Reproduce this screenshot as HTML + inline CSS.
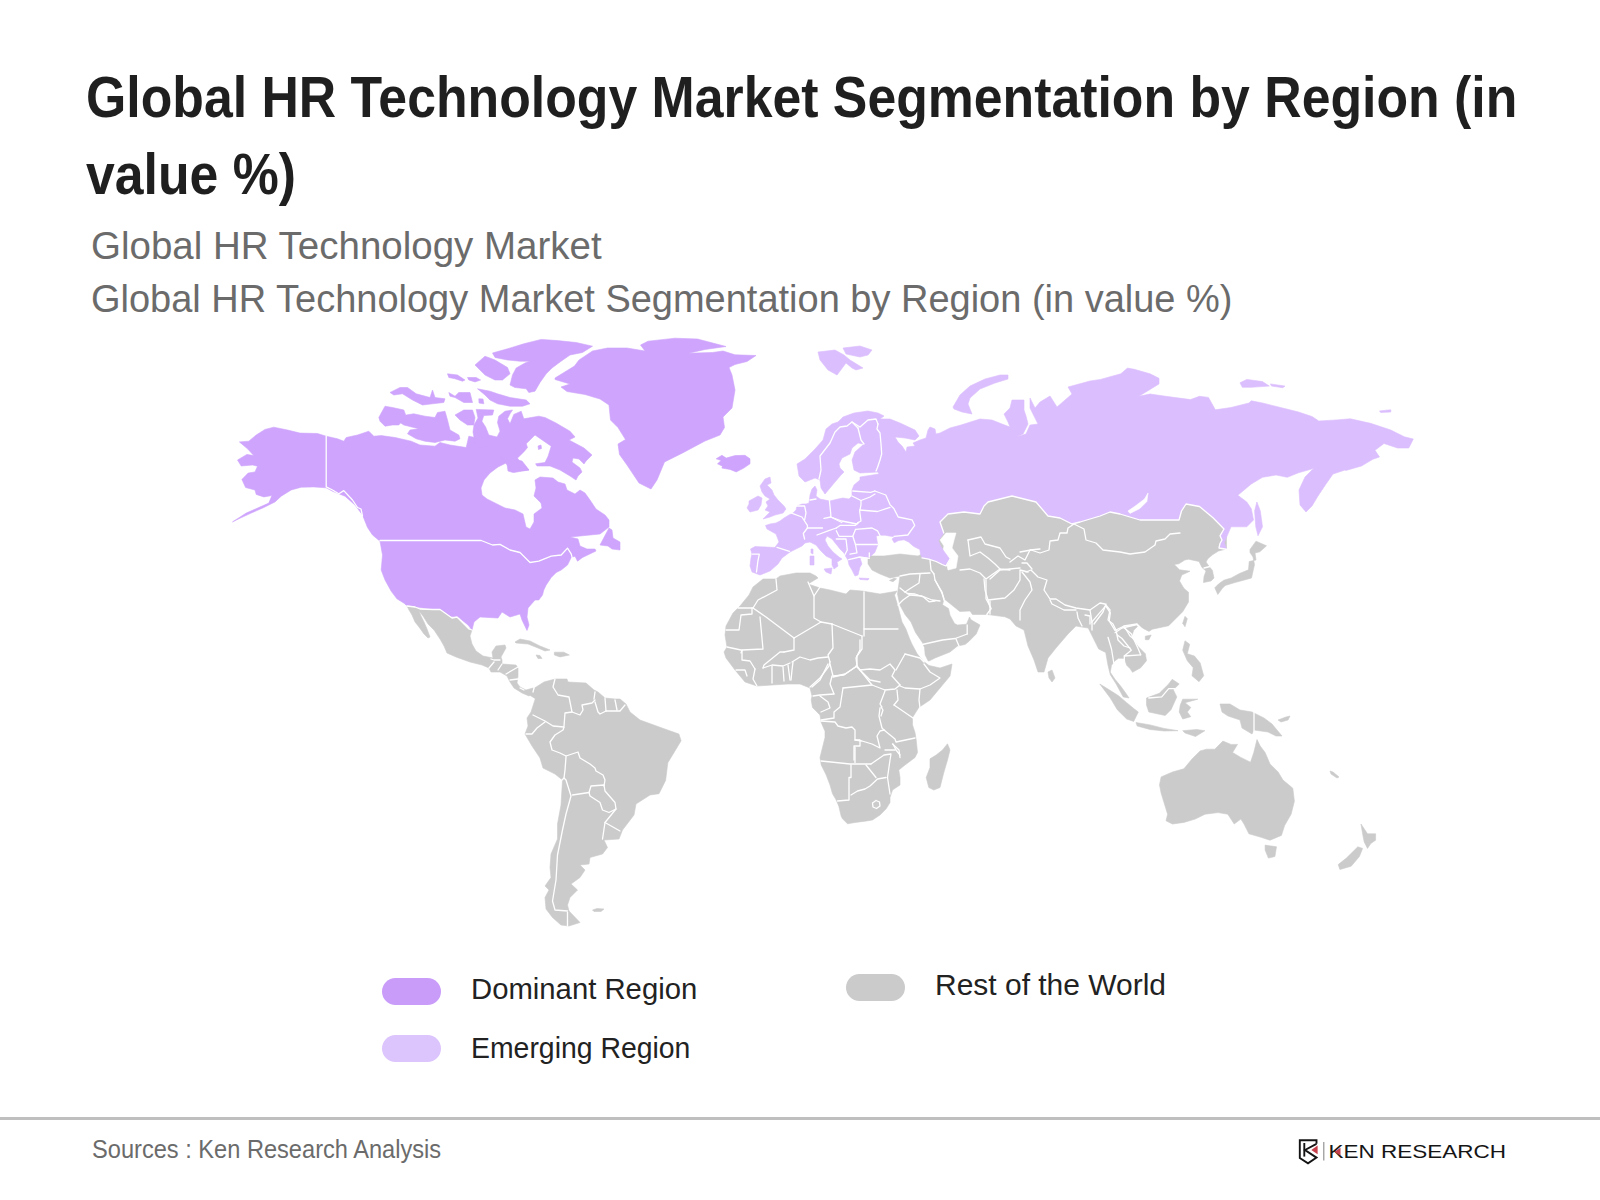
<!DOCTYPE html>
<html><head><meta charset="utf-8">
<style>
html,body{margin:0;padding:0;background:#fff;width:1600px;height:1200px;overflow:hidden;position:relative}
.t{position:absolute;white-space:nowrap;line-height:1;font-family:"Liberation Sans",sans-serif;transform-origin:0 0}
#t1,#t2{font-weight:bold;font-size:58px;color:#1f1f1f}
#s1,#s2{font-size:39.7px;color:#6b6b6b}
.lg{font-size:30.1px;color:#222}
.pill{position:absolute;width:59px;height:27px;border-radius:14px}
#src{font-size:25.4px;color:#6b6b6b}
#rule{position:absolute;left:0;top:1117px;width:1600px;height:3px;background:#bfbfbf}
#map{position:absolute;left:0;top:0}
</style></head><body>
<div class="t" id="t1" style="left:86px;top:67.7px;transform:scaleX(0.8925)">Global HR Technology Market Segmentation by Region (in</div>
<div class="t" id="t2" style="left:86px;top:144.7px;transform:scaleX(0.8925)">value %)</div>
<div class="t" id="s1" style="left:91px;top:226.4px;transform:scaleX(0.97)">Global HR Technology Market</div>
<div class="t" id="s2" style="left:91px;top:279.4px;transform:scaleX(0.957)">Global HR Technology Market Segmentation by Region (in value %)</div>
<svg id="map" width="1600" height="1200" viewBox="0 0 1600 1200"><path d="M239.4,441.9 L248.8,441.2 L256.2,435.0 L265.0,429.4 L273.8,427.2 L287.5,430.0 L300.0,433.1 L317.5,433.5 L326.2,436.2 L337.5,438.8 L343.8,441.2 L346.2,437.5 L357.5,435.0 L368.8,431.2 L373.8,436.2 L381.2,435.6 L395.0,437.5 L411.2,441.2 L420.0,445.0 L435.0,446.2 L440.0,442.5 L450.0,445.0 L466.2,447.5 L468.8,436.2 L475.0,437.5 L477.5,447.5 L480.0,440.0 L490.0,440.0 L500.0,445.0 L503.0,455.0 L506.0,463.0 L498.0,467.0 L490.0,473.0 L484.0,480.0 L481.0,488.0 L482.0,495.0 L487.0,499.0 L495.0,503.0 L505.0,508.0 L515.0,510.0 L523.0,514.0 L526.0,527.0 L530.0,529.0 L534.0,522.0 L534.0,514.0 L542.0,508.0 L541.0,503.0 L534.0,496.0 L536.0,488.0 L535.0,480.0 L540.0,477.0 L553.0,478.0 L558.0,482.0 L565.0,484.0 L567.0,490.0 L575.0,494.0 L580.0,490.0 L585.0,493.0 L590.0,500.0 L596.0,509.0 L605.0,515.0 L609.0,520.0 L609.0,527.0 L600.0,534.0 L590.0,535.0 L570.0,537.0 L578.0,539.0 L580.0,546.0 L587.0,549.0 L595.0,549.0 L596.0,551.0 L582.5,557.5 L577.5,561.2 L575.0,556.2 L571.2,557.5 L567.5,565.0 L561.2,570.0 L556.2,572.5 L551.2,577.5 L546.2,585.0 L543.8,590.0 L542.5,595.0 L538.8,600.0 L535.0,600.0 L528.0,608.0 L527.0,617.0 L529.0,625.0 L527.0,630.5 L522.0,620.0 L520.0,614.0 L510.0,617.0 L502.0,612.0 L498.0,618.0 L480.0,617.0 L474.0,622.0 L472.0,630.0 L468.0,625.0 L458.8,617.5 L451.2,616.6 L436.2,610.0 L423.0,608.0 L406.2,605.3 L404.4,603.4 L396.9,598.8 L391.2,591.2 L385.0,580.0 L381.2,570.0 L382.5,555.0 L380.0,541.2 L372.5,535.0 L367.5,527.5 L362.5,515.0 L355.0,505.0 L345.0,496.2 L332.5,491.2 L326.2,487.8 L313.8,486.9 L301.2,487.2 L291.2,490.0 L281.2,496.2 L275.0,501.9 L263.8,507.5 L251.2,513.1 L238.8,518.8 L232.5,521.9 L246.2,513.1 L258.8,507.5 L268.8,503.1 L271.9,495.6 L263.8,496.9 L256.2,494.4 L255.0,490.0 L245.6,487.5 L241.9,479.4 L248.1,473.1 L255.0,471.9 L257.5,466.2 L252.5,465.0 L241.2,466.0 L237.5,460.0 L246.9,454.4 L253.8,455.6 L247.5,448.8Z" fill="#cea4fc" stroke="#cea4fc" stroke-width="0.6"/><path d="M0.0,0.0 L0.0,0.0 L0.0,0.0Z" fill="#fff" stroke="#fff" stroke-width="0.6"/><path d="M600.0,545.0 L609.0,528.0 L612.0,530.0 L613.0,538.0 L620.0,542.0 L620.0,550.0 L612.0,549.0 L608.0,546.0Z" fill="#cea4fc" stroke="#cea4fc" stroke-width="0.6"/><path d="M507.0,464.0 L513.0,459.0 L522.0,461.0 L526.0,466.0 L529.0,470.0 L524.0,470.5 L517.0,469.5 L513.0,472.5 L508.0,471.0Z" fill="#cea4fc" stroke="#cea4fc" stroke-width="0.6"/><path d="M476.2,409.4 L493.8,410.0 L492.5,415.0 L483.8,415.6 L481.9,421.2 L485.6,426.9 L488.8,435.0 L497.0,437.0 L500.0,431.2 L497.5,422.5 L498.8,416.2 L505.0,411.2 L512.5,410.0 L510.0,413.8 L507.5,418.8 L510.0,423.8 L513.8,414.4 L521.2,411.2 L523.8,418.8 L538.8,416.2 L545.0,417.5 L556.0,423.0 L570.0,431.2 L575.0,437.0 L569.0,440.0 L584.0,448.0 L592.0,455.0 L586.0,461.0 L584.0,464.0 L579.0,459.0 L573.0,458.0 L572.0,462.0 L580.0,468.0 L582.0,472.0 L578.0,476.0 L576.0,480.0 L570.0,476.0 L560.0,470.0 L550.0,466.0 L537.0,466.0 L535.6,463.8 L545.0,462.5 L548.1,456.2 L551.2,446.2 L535.0,435.0 L526.2,443.8 L527.5,447.5 L523.8,451.9 L517.5,458.1 L520.0,462.0 L528.8,470.0 L513.8,472.5 L506.2,463.8 L500.0,456.0 L496.0,448.0 L488.0,446.0 L476.0,448.0 L473.0,432.0 L474.0,425.0 L478.0,418.0Z" fill="#cea4fc" stroke="#cea4fc" stroke-width="0.6"/><path d="M475.0,365.0 L485.0,356.2 L495.0,360.0 L507.5,367.5 L510.0,373.8 L502.5,380.0 L495.0,380.0 L485.0,375.0Z" fill="#cea4fc" stroke="#cea4fc" stroke-width="0.6"/><path d="M478.8,398.8 L483.0,399.0 L483.8,403.8 L479.0,403.0Z" fill="#cea4fc" stroke="#cea4fc" stroke-width="0.6"/><path d="M555.0,378.0 L574.5,366.0 L579.0,360.0 L592.5,351.0 L607.5,348.0 L627.0,348.0 L645.0,351.0 L640.5,345.0 L648.0,341.2 L675.0,338.2 L697.5,339.0 L726.0,346.5 L705.0,349.5 L688.5,353.2 L712.5,352.5 L723.0,351.0 L735.0,354.8 L756.0,355.5 L747.0,361.5 L735.0,364.5 L729.0,367.5 L732.0,375.0 L735.0,390.0 L732.0,408.0 L723.0,417.0 L724.5,427.5 L720.0,435.0 L705.0,441.0 L682.5,453.0 L664.5,462.0 L657.0,480.0 L651.0,489.0 L639.0,483.0 L627.0,465.0 L619.5,454.5 L618.0,444.0 L625.5,439.5 L618.0,427.5 L610.5,420.0 L609.0,405.0 L600.0,399.0 L585.0,394.5 L567.0,391.5 L561.0,387.0 L570.0,384.0 L555.0,379.5Z" fill="#cea4fc" stroke="#cea4fc" stroke-width="0.6"/><path d="M492.5,353.0 L507.5,348.8 L523.8,343.8 L541.2,339.4 L557.5,340.6 L576.2,342.5 L592.5,346.2 L582.5,352.5 L570.0,355.0 L560.0,362.0 L552.0,368.0 L546.2,373.8 L540.0,382.5 L535.0,391.2 L528.8,392.5 L526.2,388.8 L515.0,387.5 L510.0,385.0 L512.5,375.0 L516.2,368.0 L525.0,363.0 L530.0,361.2 L520.0,361.2 L507.5,360.0 L495.0,357.5Z" fill="#cea4fc" stroke="#cea4fc" stroke-width="0.6"/><path d="M477.5,388.8 L490.0,391.2 L497.5,393.8 L510.0,397.5 L526.2,400.0 L530.0,403.8 L522.5,406.2 L510.0,406.2 L497.5,403.8 L490.0,400.0 L485.0,395.0Z" fill="#cea4fc" stroke="#cea4fc" stroke-width="0.6"/><path d="M378.8,417.5 L385.0,406.2 L392.5,407.5 L403.8,410.0 L406.2,416.2 L398.8,425.0 L392.5,425.0 L385.0,426.2 L380.0,421.2Z" fill="#cea4fc" stroke="#cea4fc" stroke-width="0.6"/><path d="M400.0,422.5 L406.2,415.0 L413.8,413.8 L425.0,416.2 L435.0,417.5 L437.5,412.5 L445.0,411.2 L447.5,420.0 L450.0,430.0 L458.8,435.0 L460.0,438.8 L455.0,441.2 L445.0,440.0 L435.0,442.5 L425.0,441.2 L416.2,438.8 L407.5,433.8 L410.0,430.0 L418.8,428.8 L403.8,425.0Z" fill="#cea4fc" stroke="#cea4fc" stroke-width="0.6"/><path d="M390.0,392.5 L400.0,387.5 L407.5,387.5 L416.2,393.8 L430.0,397.5 L432.5,390.0 L435.0,397.5 L445.0,398.8 L443.8,402.5 L432.5,403.8 L422.5,405.0 L412.5,400.0 L402.5,393.8 L393.8,395.0Z" fill="#cea4fc" stroke="#cea4fc" stroke-width="0.6"/><path d="M447.5,373.8 L457.5,375.0 L465.0,380.0 L462.5,381.2 L455.0,378.8 L448.8,377.5Z" fill="#cea4fc" stroke="#cea4fc" stroke-width="0.6"/><path d="M467.5,377.5 L476.2,377.5 L480.6,380.0 L475.0,381.9 L468.8,380.0Z" fill="#cea4fc" stroke="#cea4fc" stroke-width="0.6"/><path d="M448.8,392.5 L455.0,396.2 L458.8,392.5 L470.0,392.5 L472.5,402.5 L463.8,402.5 L455.0,397.5 L450.0,396.2Z" fill="#cea4fc" stroke="#cea4fc" stroke-width="0.6"/><path d="M455.0,415.0 L463.8,410.0 L472.5,410.0 L475.0,417.5 L473.8,425.0 L467.5,425.0 L460.0,420.0Z" fill="#cea4fc" stroke="#cea4fc" stroke-width="0.6"/><path d="M538.0,446.0 L541.0,445.0 L541.5,448.5 L538.5,449.5Z" fill="#cea4fc" stroke="#cea4fc" stroke-width="0.6"/><path d="M716.2,458.8 L721.9,455.3 L726.2,458.1 L735.0,455.6 L745.0,455.3 L750.0,458.8 L750.0,463.8 L743.8,468.1 L736.2,471.9 L730.0,469.4 L721.9,468.1 L722.5,466.2 L717.5,463.8 L721.2,460.6Z" fill="#cea4fc" stroke="#cea4fc" stroke-width="0.6"/><path d="M763.0,579.0 L776.0,579.0 L780.0,576.0 L796.0,573.0 L810.0,573.0 L816.0,576.0 L818.0,578.0 L808.0,584.0 L820.0,588.0 L830.0,590.0 L846.0,594.0 L850.0,590.0 L862.0,591.0 L880.0,594.0 L892.0,592.0 L897.0,591.0 L894.5,595.0 L897.5,604.8 L902.0,622.0 L905.8,628.8 L909.5,638.5 L911.8,643.8 L917.0,653.5 L923.0,661.0 L929.0,665.5 L940.0,668.0 L952.0,664.0 L950.0,676.0 L940.0,688.0 L930.0,700.0 L918.8,707.5 L912.5,717.5 L912.5,725.0 L915.0,732.5 L916.2,740.0 L917.5,752.5 L915.0,757.5 L905.0,765.0 L898.8,770.0 L900.0,777.5 L900.0,785.0 L892.5,790.0 L890.0,797.5 L890.0,802.5 L886.2,808.8 L880.0,815.0 L872.5,820.0 L865.0,821.2 L855.0,822.5 L847.5,823.8 L842.5,818.8 L841.2,816.2 L838.8,806.2 L836.2,800.0 L832.5,793.8 L830.0,785.0 L826.2,775.0 L821.2,765.0 L820.0,757.5 L822.5,747.5 L825.0,737.5 L825.0,731.2 L821.2,722.5 L820.0,715.0 L812.5,707.5 L811.2,700.0 L812.0,696.0 L810.0,688.0 L800.0,684.0 L788.0,684.0 L772.0,685.0 L757.0,686.0 L745.0,682.0 L735.0,670.0 L726.0,658.0 L724.0,652.0 L727.0,647.0 L725.0,635.0 L726.0,626.0 L733.0,613.0 L740.0,606.0 L749.0,595.0 L753.0,587.0Z" fill="#cbcbcb" stroke="#cbcbcb" stroke-width="0.6"/><path d="M947.5,743.8 L950.0,750.0 L947.5,760.0 L943.8,772.5 L940.0,787.5 L933.8,790.0 L928.8,787.5 L926.2,777.5 L930.0,767.5 L930.0,758.8 L936.2,755.0 L942.5,750.0Z" fill="#cbcbcb" stroke="#cbcbcb" stroke-width="0.6"/><path d="M868.0,556.0 L884.0,556.0 L900.0,554.0 L918.0,556.0 L926.0,552.0 L935.0,505.0 L1012.0,490.0 L1226.0,495.0 L1226.5,549.0 L1218.5,551.0 L1212.5,554.8 L1208.0,558.5 L1206.0,562.0 L1208.8,566.0 L1212.5,570.5 L1213.0,573.5 L1214.0,578.0 L1211.0,581.0 L1203.5,582.5 L1204.0,576.5 L1206.0,571.0 L1202.0,567.5 L1199.0,561.5 L1188.5,559.2 L1184.8,560.0 L1178.8,563.8 L1174.2,564.5 L1179.5,569.8 L1190.0,571.2 L1181.8,575.0 L1179.5,581.0 L1184.0,588.5 L1188.5,592.2 L1188.5,602.0 L1182.7,611.7 L1168.7,625.7 L1152.3,629.2 L1148.8,631.5 L1138.3,625.7 L1133.7,630.3 L1131.3,637.3 L1138.3,646.7 L1145.3,653.7 L1146.5,660.7 L1140.7,667.7 L1132.5,672.3 L1130.2,668.8 L1126.7,665.3 L1124.3,658.3 L1118.5,658.3 L1115.0,660.7 L1111.5,665.3 L1110.3,672.3 L1115.0,679.3 L1120.8,686.3 L1126.7,694.5 L1129.0,698.0 L1123.2,696.9 L1116.2,684.0 L1110.3,674.7 L1108.0,665.3 L1105.7,652.5 L1098.7,649.0 L1096.3,644.3 L1091.7,635.0 L1088.2,628.0 L1080.0,626.8 L1076.0,626.0 L1068.0,634.0 L1056.0,648.0 L1048.0,658.0 L1044.0,672.0 L1038.0,672.0 L1034.0,660.0 L1028.0,646.0 L1024.0,630.0 L1016.0,626.0 L1010.0,619.0 L1004.8,616.8 L987.5,614.5 L972.5,614.5 L970.0,611.0 L959.8,611.5 L951.5,604.8 L944.0,598.8 L942.5,604.8 L948.5,608.5 L950.0,615.2 L954.5,623.5 L957.5,625.0 L966.5,624.2 L969.5,617.0 L971.0,619.8 L980.0,625.0 L976.2,634.0 L968.8,641.5 L965.0,644.5 L957.5,646.0 L950.0,652.0 L935.0,658.0 L929.0,661.0 L928.2,661.0 L925.2,655.0 L924.5,647.5 L922.2,642.2 L915.5,632.5 L911.0,622.0 L905.0,614.5 L899.8,604.8 L897.5,594.0 L898.0,590.0 L900.0,576.0 L890.0,578.0 L880.0,574.0 L872.0,570.0 L868.0,564.0Z" fill="#cbcbcb" stroke="#cbcbcb" stroke-width="0.6"/><path d="M940.0,540.0 L946.0,533.0 L956.0,533.0 L954.0,540.0 L952.0,548.0 L958.0,556.0 L956.0,568.0 L948.0,570.0 L946.0,560.0 L942.0,554.0 L944.0,546.0Z" fill="#fff" stroke="#fff" stroke-width="0.6"/><path d="M1048.0,672.0 L1052.0,670.0 L1055.0,678.0 L1052.0,682.0 L1049.0,678.0Z" fill="#cbcbcb" stroke="#cbcbcb" stroke-width="0.6"/><path d="M1145.3,636.2 L1151.2,635.0 L1148.8,639.7 L1145.3,639.7Z" fill="#cbcbcb" stroke="#cbcbcb" stroke-width="0.6"/><path d="M1185.0,616.3 L1187.3,618.7 L1185.0,626.8 L1182.7,623.3Z" fill="#cbcbcb" stroke="#cbcbcb" stroke-width="0.6"/><path d="M1214.8,587.8 L1217.8,594.5 L1222.2,588.5 L1225.2,585.5 L1235.0,582.5 L1246.2,579.5 L1251.5,578.0 L1254.5,564.5 L1253.0,557.0 L1250.0,552.5 L1250.0,549.5 L1256.0,541.2 L1266.5,545.8 L1259.8,551.8 L1255.0,553.0 L1256.0,560.0 L1249.2,561.5 L1248.5,569.8 L1239.5,573.5 L1231.2,578.0 L1223.8,580.2 L1218.5,584.0Z" fill="#cbcbcb" stroke="#cbcbcb" stroke-width="0.6"/><path d="M0.0,0.0 L0.0,0.0 L0.0,0.0Z" fill="#cbcbcb" stroke="#cbcbcb" stroke-width="0.6"/><path d="M1185.0,640.8 L1189.7,644.3 L1187.3,653.7 L1194.4,656.0 L1200.2,663.0 L1203.7,675.8 L1199.0,681.7 L1192.0,675.8 L1193.2,667.7 L1187.3,660.7 L1182.7,650.2Z" fill="#cbcbcb" stroke="#cbcbcb" stroke-width="0.6"/><path d="M1146.5,698.0 L1159.3,693.3 L1168.7,684.0 L1172.2,679.3 L1179.2,684.0 L1173.3,689.8 L1176.8,696.9 L1171.0,709.7 L1165.2,715.5 L1148.8,712.0 L1146.5,705.0Z" fill="#cbcbcb" stroke="#cbcbcb" stroke-width="0.6"/><path d="M1182.7,699.2 L1197.8,699.2 L1185.0,702.7 L1190.8,707.4 L1187.3,712.0 L1190.8,716.7 L1182.7,719.0 L1179.2,712.0 L1180.3,705.0Z" fill="#cbcbcb" stroke="#cbcbcb" stroke-width="0.6"/><path d="M1099.8,684.0 L1109.2,689.8 L1118.5,695.7 L1126.7,702.7 L1133.7,708.5 L1138.3,712.0 L1133.7,721.4 L1126.7,719.0 L1117.3,709.7 L1110.3,698.0 L1103.3,688.7Z" fill="#cbcbcb" stroke="#cbcbcb" stroke-width="0.6"/><path d="M1136.0,722.5 L1150.0,724.9 L1164.0,728.4 L1178.0,730.7 L1164.0,731.0 L1150.0,729.5 L1137.2,726.0Z" fill="#cbcbcb" stroke="#cbcbcb" stroke-width="0.6"/><path d="M1220.0,704.0 L1230.0,704.0 L1240.0,710.0 L1252.0,712.0 L1264.0,718.0 L1272.0,724.0 L1282.0,736.0 L1276.0,736.0 L1268.0,732.0 L1254.0,730.0 L1252.0,734.0 L1242.0,728.0 L1240.0,720.0 L1228.0,716.0 L1222.0,712.0Z" fill="#cbcbcb" stroke="#cbcbcb" stroke-width="0.6"/><path d="M1161.1,776.9 L1172.5,772.0 L1183.9,768.8 L1192.0,759.0 L1200.1,750.9 L1206.6,749.2 L1214.8,749.2 L1222.9,741.1 L1231.0,744.4 L1237.5,744.4 L1232.6,752.5 L1240.8,757.4 L1250.5,762.2 L1253.8,752.5 L1257.0,739.5 L1260.2,746.0 L1265.1,752.5 L1270.0,763.9 L1278.1,772.0 L1283.0,780.1 L1292.8,788.2 L1294.4,801.2 L1291.1,814.2 L1284.6,825.6 L1281.4,835.4 L1270.0,840.2 L1260.2,837.0 L1248.9,833.8 L1244.0,824.0 L1240.8,819.1 L1234.2,824.0 L1227.8,814.2 L1218.0,812.6 L1205.0,814.2 L1195.2,819.1 L1183.9,822.4 L1172.5,824.0 L1166.0,820.8 L1167.6,814.2 L1161.1,793.1 L1159.5,785.0Z" fill="#cbcbcb" stroke="#cbcbcb" stroke-width="0.6"/><path d="M1265.1,845.1 L1276.5,846.8 L1274.9,856.5 L1268.4,858.1 L1265.1,850.0Z" fill="#cbcbcb" stroke="#cbcbcb" stroke-width="0.6"/><path d="M1361.0,824.0 L1367.5,833.8 L1375.6,833.8 L1375.6,840.2 L1370.8,843.5 L1367.5,848.4 L1364.2,841.9 L1362.6,833.8Z" fill="#cbcbcb" stroke="#cbcbcb" stroke-width="0.6"/><path d="M1357.8,846.8 L1362.6,848.4 L1359.4,856.5 L1351.2,866.2 L1339.9,869.5 L1338.2,864.6 L1346.4,858.1Z" fill="#cbcbcb" stroke="#cbcbcb" stroke-width="0.6"/><path d="M528.0,694.0 L533.0,689.0 L544.0,682.0 L555.0,679.0 L567.0,679.0 L568.0,682.0 L586.0,683.0 L594.0,690.0 L598.0,692.0 L605.0,698.0 L615.0,699.0 L620.0,699.0 L626.0,704.0 L630.0,712.0 L640.0,720.0 L662.0,728.0 L678.9,734.0 L681.1,740.7 L674.5,751.7 L667.8,762.8 L665.6,780.4 L659.0,793.7 L650.0,795.0 L636.0,804.0 L634.0,815.0 L622.5,830.0 L619.0,839.0 L604.0,840.0 L607.5,847.5 L602.5,854.0 L590.0,857.5 L589.0,864.0 L580.0,865.0 L585.0,870.0 L580.0,877.5 L571.0,884.0 L577.5,890.0 L570.0,897.5 L567.5,905.0 L569.0,911.0 L580.0,922.5 L569.0,926.0 L561.0,925.0 L552.5,917.5 L546.0,909.0 L545.0,897.5 L549.0,890.0 L545.0,886.0 L551.0,877.5 L550.0,867.5 L551.0,854.0 L557.5,839.0 L557.5,824.0 L561.0,805.0 L562.5,780.0 L555.0,774.0 L543.0,768.0 L540.0,758.0 L532.0,746.0 L525.0,734.0 L528.0,726.0 L527.0,718.0 L531.0,712.0 L535.3,698.7Z" fill="#cbcbcb" stroke="#cbcbcb" stroke-width="0.6"/><path d="M592.5,910.0 L597.0,908.5 L604.0,909.0 L601.0,911.5 L594.0,911.5Z" fill="#cbcbcb" stroke="#cbcbcb" stroke-width="0.6"/><path d="M407.0,606.0 L415.0,607.0 L420.0,609.0 L433.0,609.5 L440.0,609.5 L445.0,613.0 L452.0,618.0 L457.0,617.0 L462.0,622.0 L469.0,629.0 L472.0,630.0 L470.0,636.0 L472.0,644.0 L476.0,651.0 L483.0,656.0 L488.0,657.0 L493.0,658.0 L492.0,652.0 L496.0,646.0 L505.0,645.0 L506.0,648.0 L501.0,657.0 L502.0,660.0 L502.0,664.0 L516.0,665.0 L518.0,668.0 L518.0,672.0 L518.0,676.0 L517.0,683.0 L520.0,687.0 L526.0,690.0 L533.0,688.0 L537.0,690.0 L529.0,696.0 L522.0,693.0 L514.0,688.0 L510.0,682.0 L507.0,676.0 L500.0,672.0 L491.0,672.0 L489.0,668.0 L482.0,665.0 L470.0,662.0 L456.0,657.0 L447.0,653.0 L444.0,646.0 L440.0,639.0 L434.0,630.0 L428.0,624.0 L423.0,616.0 L419.0,611.0 L421.0,616.0 L424.0,622.0 L427.0,629.0 L430.0,637.0 L428.0,638.0 L424.0,634.0 L419.0,627.0 L415.0,622.0 L412.0,615.0 L409.0,610.0Z" fill="#cbcbcb" stroke="#cbcbcb" stroke-width="0.6"/><path d="M515.0,642.0 L520.0,639.0 L530.0,641.0 L540.0,646.0 L550.0,650.0 L545.0,651.0 L538.0,648.0 L528.0,644.0 L516.0,643.0Z" fill="#cbcbcb" stroke="#cbcbcb" stroke-width="0.6"/><path d="M554.4,652.2 L563.8,652.2 L569.4,655.0 L560.0,656.9 L554.4,655.0Z" fill="#cbcbcb" stroke="#cbcbcb" stroke-width="0.6"/><path d="M536.0,655.0 L540.0,655.5 L542.0,658.5 L538.0,658.5Z" fill="#cbcbcb" stroke="#cbcbcb" stroke-width="0.6"/><path d="M1330.0,771.0 L1333.0,772.0 L1339.0,777.0 L1337.0,778.0 L1331.0,774.0Z" fill="#cbcbcb" stroke="#cbcbcb" stroke-width="0.6"/><path d="M1278.0,720.0 L1286.0,717.0 L1290.0,716.0 L1288.0,720.0 L1281.0,722.0Z" fill="#cbcbcb" stroke="#cbcbcb" stroke-width="0.6"/><path d="M1182.7,730.7 L1196.7,729.5 L1204.9,730.7 L1195.5,736.5 L1185.0,733.0Z" fill="#cbcbcb" stroke="#cbcbcb" stroke-width="0.6"/><path d="M889.5,580.5 L894.0,578.3 L896.5,578.8 L893.0,581.7Z" fill="#cbcbcb" stroke="#cbcbcb" stroke-width="0.6"/><path d="M752.0,572.0 L750.0,566.0 L751.0,558.0 L752.0,554.0 L750.5,549.0 L755.0,546.5 L766.0,547.0 L775.0,547.5 L776.0,546.0 L779.0,542.0 L776.0,534.0 L767.0,529.0 L765.5,525.5 L770.0,524.0 L776.0,523.0 L780.0,521.0 L784.0,518.0 L789.0,515.0 L793.0,513.0 L796.0,510.0 L797.0,506.0 L802.0,504.0 L806.0,504.0 L809.0,503.0 L810.0,495.0 L812.0,489.0 L815.0,486.0 L817.0,490.0 L816.0,496.0 L820.0,499.0 L825.0,500.0 L830.0,501.0 L838.0,499.0 L843.0,498.0 L849.0,499.0 L852.0,496.0 L852.0,490.0 L854.0,485.0 L860.0,480.0 L860.0,477.0 L879.0,474.0 L878.0,472.0 L860.0,473.0 L854.0,470.0 L852.0,460.0 L855.0,452.0 L864.0,444.0 L858.0,443.0 L852.0,448.0 L850.0,454.0 L842.0,458.0 L839.0,464.0 L840.0,468.0 L844.0,472.0 L841.0,475.0 L835.0,482.0 L825.0,494.0 L821.0,488.0 L820.0,480.0 L815.0,478.0 L805.0,482.0 L799.0,476.0 L797.0,464.0 L805.0,459.0 L815.0,449.0 L823.0,440.0 L826.0,429.0 L832.0,424.0 L838.0,422.0 L843.0,417.0 L854.0,413.0 L868.0,411.0 L878.0,413.0 L884.0,416.0 L880.0,419.0 L890.0,419.0 L900.0,423.0 L915.0,430.0 L919.0,436.0 L915.0,440.0 L905.0,438.0 L895.0,437.0 L898.0,442.0 L902.0,446.0 L906.0,452.0 L907.0,447.0 L915.0,446.0 L913.0,443.0 L920.0,440.0 L926.0,438.0 L928.0,430.0 L930.0,427.0 L935.0,429.0 L936.0,434.0 L940.0,433.0 L950.0,428.0 L961.0,425.0 L980.0,419.0 L992.0,420.0 L1002.0,424.0 L1010.0,427.0 L1008.0,422.0 L1004.0,414.0 L1010.0,408.0 L1012.0,400.0 L1024.0,400.0 L1024.0,410.0 L1026.0,416.0 L1028.0,424.0 L1023.0,434.0 L1016.0,437.0 L1026.0,434.0 L1030.0,425.0 L1038.0,424.0 L1030.0,408.0 L1030.0,398.0 L1035.0,408.0 L1040.0,402.0 L1050.0,396.0 L1057.0,407.0 L1072.0,394.0 L1068.0,387.0 L1090.0,381.0 L1100.5,379.4 L1120.8,373.8 L1127.5,368.1 L1134.3,369.3 L1150.0,373.8 L1159.0,378.3 L1159.0,383.9 L1150.0,389.5 L1138.8,396.3 L1150.0,394.0 L1165.8,396.3 L1190.5,399.6 L1199.5,396.3 L1208.5,397.4 L1215.3,409.8 L1231.0,407.5 L1249.0,403.0 L1251.3,400.8 L1262.5,403.0 L1280.5,407.5 L1298.5,412.0 L1312.0,416.5 L1318.8,421.0 L1336.8,419.9 L1350.3,418.8 L1370.5,423.3 L1390.8,430.0 L1404.3,436.8 L1413.3,439.0 L1408.8,448.0 L1397.5,448.0 L1384.0,443.5 L1375.0,450.3 L1379.5,457.0 L1372.8,459.3 L1361.5,466.0 L1345.8,470.5 L1345.0,470.0 L1333.0,474.0 L1326.0,484.0 L1318.0,496.0 L1312.0,506.0 L1306.0,512.0 L1300.0,505.0 L1299.0,490.0 L1305.0,477.0 L1312.0,470.0 L1314.3,468.3 L1298.5,472.8 L1287.3,477.3 L1276.0,475.0 L1262.5,477.3 L1251.3,484.0 L1237.8,495.3 L1246.8,502.0 L1251.3,508.8 L1253.5,520.0 L1246.8,526.8 L1231.0,526.8 L1224.3,542.5 L1226.5,549.3 L1227.5,549.5 L1219.0,548.0 L1220.0,543.5 L1222.0,540.0 L1220.0,535.8 L1224.0,529.0 L1213.0,517.8 L1199.5,506.5 L1186.0,504.0 L1181.5,511.0 L1179.0,520.0 L1168.0,520.0 L1140.0,520.0 L1120.0,514.0 L1110.0,512.0 L1100.0,516.0 L1080.0,522.0 L1072.0,524.0 L1060.0,518.0 L1048.0,516.0 L1036.0,502.0 L1020.0,498.0 L1012.0,496.0 L988.0,502.0 L984.0,506.0 L980.0,514.0 L964.0,512.0 L948.0,514.0 L940.0,522.0 L943.8,533.0 L938.5,540.5 L940.0,545.0 L943.8,551.0 L949.8,559.2 L946.0,566.0 L942.2,564.5 L936.2,561.5 L928.8,559.2 L922.0,557.8 L920.5,554.0 L919.8,549.5 L913.8,546.5 L908.5,542.0 L904.0,539.8 L898.8,540.5 L894.2,542.8 L892.0,539.0 L895.0,536.8 L889.0,536.0 L885.2,535.2 L880.0,535.2 L876.2,536.0 L877.8,545.0 L874.8,552.5 L868.8,557.8 L865.0,557.0 L860.0,558.0 L862.0,564.0 L860.0,567.0 L858.0,575.0 L855.0,576.0 L852.0,570.0 L849.0,565.0 L848.0,560.0 L846.0,557.0 L844.0,553.0 L840.0,549.0 L836.0,544.0 L832.0,539.0 L827.0,536.0 L825.0,540.0 L828.0,546.0 L833.0,552.0 L839.0,557.0 L842.0,559.0 L839.0,561.0 L837.0,562.0 L838.0,566.0 L834.0,569.0 L832.0,565.0 L832.0,559.0 L826.0,556.0 L820.0,550.0 L816.0,545.0 L810.0,542.0 L805.0,543.0 L802.0,546.0 L796.0,549.0 L790.0,552.0 L782.0,558.0 L778.0,564.0 L770.0,571.0 L760.0,575.0Z" fill="#dbbefd" stroke="#dbbefd" stroke-width="0.6"/><path d="M770.0,477.0 L771.0,483.0 L767.0,485.0 L772.0,490.0 L774.0,495.0 L778.0,500.0 L784.0,506.0 L786.0,509.0 L783.0,513.0 L775.0,515.0 L770.0,517.0 L763.0,519.0 L770.0,512.0 L765.0,510.0 L768.0,506.0 L766.0,502.0 L770.0,499.0 L765.0,496.0 L762.0,492.0 L760.0,486.0 L765.0,479.0Z" fill="#dbbefd" stroke="#dbbefd" stroke-width="0.6"/><path d="M749.0,501.0 L758.0,496.0 L762.0,498.0 L761.0,505.0 L758.0,510.0 L750.0,512.0 L747.0,508.0 L749.0,504.0Z" fill="#dbbefd" stroke="#dbbefd" stroke-width="0.6"/><path d="M818.0,352.0 L835.0,350.0 L844.0,355.0 L850.0,360.0 L863.0,368.0 L856.0,370.0 L852.0,368.0 L846.0,363.0 L837.0,375.0 L828.0,370.0 L820.0,360.0Z" fill="#dbbefd" stroke="#dbbefd" stroke-width="0.6"/><path d="M843.0,348.0 L860.0,346.0 L872.0,350.0 L868.0,355.0 L860.0,357.0 L846.0,354.0Z" fill="#dbbefd" stroke="#dbbefd" stroke-width="0.6"/><path d="M953.0,407.0 L960.0,395.0 L970.0,386.0 L985.0,379.0 L1000.0,375.0 L1008.0,375.0 L1008.0,379.0 L995.0,383.0 L980.0,389.0 L970.0,398.0 L968.0,404.0 L972.0,414.0 L962.0,412.0 L954.0,409.0Z" fill="#dbbefd" stroke="#dbbefd" stroke-width="0.6"/><path d="M1256.9,502.0 L1260.3,511.0 L1262.5,526.8 L1258.0,535.8 L1255.8,526.8 L1254.6,511.0Z" fill="#dbbefd" stroke="#dbbefd" stroke-width="0.6"/><path d="M1240.0,382.8 L1246.8,379.4 L1262.5,381.6 L1269.3,386.1 L1251.3,387.3 L1242.3,387.3Z" fill="#dbbefd" stroke="#dbbefd" stroke-width="0.6"/><path d="M1270.4,383.9 L1285.0,386.1 L1282.8,387.7 L1271.5,386.1Z" fill="#dbbefd" stroke="#dbbefd" stroke-width="0.6"/><path d="M1379.5,410.9 L1390.8,409.8 L1390.8,412.0 L1380.7,412.5Z" fill="#dbbefd" stroke="#dbbefd" stroke-width="0.6"/><path d="M824.0,569.0 L832.0,568.0 L831.0,574.0 L826.0,572.0Z" fill="#dbbefd" stroke="#dbbefd" stroke-width="0.6"/><path d="M810.0,556.0 L814.0,556.0 L814.0,565.0 L810.0,565.0Z" fill="#dbbefd" stroke="#dbbefd" stroke-width="0.6"/><path d="M811.0,549.0 L813.0,549.0 L813.0,554.0 L811.0,553.0Z" fill="#dbbefd" stroke="#dbbefd" stroke-width="0.6"/><path d="M859.0,578.0 L869.0,578.5 L868.0,580.0 L860.0,579.5Z" fill="#dbbefd" stroke="#dbbefd" stroke-width="0.6"/><path d="M1127.9,511.0 L1135.0,506.2 L1144.5,499.0 L1148.0,493.0 L1146.9,501.5 L1139.8,508.6 L1130.0,513.4Z" fill="#fff" stroke="#fff" stroke-width="0.6"/><g fill="none" stroke="#fff" stroke-width="1.3" stroke-linejoin="round" stroke-linecap="round"><polyline points="326.2,436.2 326.2,486.9 332.5,490.0 338.8,493.8 343.8,490.6 352.5,500.0 357.5,507.5 361.0,509.0 362.5,516.0"/><polyline points="380.0,540.5 481.2,540.5 492.5,545.0 500.0,544.4 510.0,550.0 520.0,552.5 530.0,562.5 538.8,561.2 551.2,556.2 561.2,555.0 567.5,548.1 571.2,553.8 572.5,558.8"/><polyline points="407.0,606.0 415.0,607.0 420.0,609.0 433.0,609.5 440.0,609.5 445.0,613.0 452.0,618.0 457.0,617.0 462.0,622.0 469.0,629.0 472.0,630.0"/><polyline points="491.0,659.0 494.0,660.0 500.0,660.0"/><polyline points="494.0,662.0 489.0,668.0"/><polyline points="502.0,664.0 498.0,670.0"/><polyline points="518.0,667.0 506.0,674.0"/><polyline points="510.0,680.0 518.0,679.0"/><polyline points="520.0,688.0 524.0,690.0"/><polyline points="534.0,688.0 533.0,692.0"/><polyline points="776.0,579.0 777.0,590.0 758.0,600.0 753.0,608.0 738.0,608.0"/><polyline points="752.0,608.0 752.0,614.0 741.0,615.0 739.0,630.0 726.0,630.0"/><polyline points="753.0,608.0 766.0,617.0 794.0,638.0"/><polyline points="760.0,617.0 763.0,649.0 742.0,650.0 741.0,653.0"/><polyline points="794.0,638.0 821.0,622.0 832.0,624.0"/><polyline points="808.0,582.0 814.0,596.0 814.0,618.0 821.0,622.0"/><polyline points="820.0,587.0 814.0,596.0"/><polyline points="832.0,624.0 862.0,636.0"/><polyline points="864.0,592.0 864.0,636.0"/><polyline points="864.0,629.0 880.0,629.0 898.0,629.0"/><polyline points="794.0,638.0 794.0,650.0 784.0,652.0"/><polyline points="832.0,624.0 833.0,648.0 828.0,655.0 830.0,662.0"/><polyline points="828.0,657.0 818.0,658.0 810.0,660.0 800.0,657.0 792.0,662.0"/><polyline points="862.0,636.0 862.0,649.0 857.0,656.0 857.0,666.0 860.0,670.0"/><polyline points="784.0,652.0 780.0,652.0 764.0,665.0 763.0,668.0"/><polyline points="727.0,647.0 741.0,650.0"/><polyline points="742.0,650.0 742.0,660.0 750.0,661.0 755.0,669.0"/><polyline points="736.0,670.0 745.0,670.0 747.0,676.0"/><polyline points="755.0,669.0 753.0,679.0 757.0,686.0"/><polyline points="772.0,666.0 772.0,683.0"/><polyline points="783.0,667.0 784.0,681.0"/><polyline points="788.0,665.0 790.0,680.0"/><polyline points="793.0,662.0 792.0,670.0 791.0,680.0"/><polyline points="828.0,664.0 820.0,680.0 812.0,687.0"/><polyline points="830.0,664.0 833.0,676.0 844.0,675.0 857.0,666.0"/><polyline points="763.0,668.0 772.0,665.0 783.0,666.0 790.0,663.0"/><polyline points="860.0,670.0 870.0,680.0 880.0,682.0"/><polyline points="810.0,687.0 820.0,678.0 829.0,666.0 830.0,662.0"/><polyline points="832.0,676.0 830.0,684.0 834.0,694.0"/><polyline points="834.0,694.0 820.0,695.0 813.0,696.0"/><polyline points="820.0,696.0 828.0,702.0 830.0,708.0 821.0,712.0"/><polyline points="843.0,688.0 840.0,707.0 834.0,712.0 834.0,718.0 821.0,720.0"/><polyline points="843.0,688.0 872.0,685.0 885.0,690.0"/><polyline points="856.0,666.0 860.0,670.0 872.0,685.0"/><polyline points="833.0,677.0 845.0,674.0 857.0,666.0"/><polyline points="860.0,640.0 860.0,650.0 856.0,658.0 857.0,666.0"/><polyline points="860.0,670.0 870.0,669.0 880.0,670.0 890.0,664.0 895.0,670.0 892.0,676.0 900.0,685.0"/><polyline points="885.0,690.0 895.0,689.0 900.0,685.0"/><polyline points="905.0,654.0 896.0,670.0"/><polyline points="905.0,654.0 920.0,658.0 924.0,662.0"/><polyline points="924.0,664.0 930.0,672.0 940.0,678.0 930.0,685.0 920.0,689.0 905.0,688.0 900.0,686.0"/><polyline points="920.0,689.0 919.0,700.0 920.0,708.0"/><polyline points="897.0,690.0 898.0,700.0 894.0,705.0"/><polyline points="894.0,705.0 913.0,718.0"/><polyline points="885.0,691.0 880.0,704.0 882.0,707.0"/><polyline points="881.0,707.0 883.0,710.0 881.0,716.0"/><polyline points="880.0,708.0 879.0,716.0 882.0,728.0 884.0,730.0"/><polyline points="884.0,730.0 895.0,739.0 896.0,742.0 915.0,738.0"/><polyline points="855.0,740.0 862.0,741.0 872.0,744.0 880.0,748.0 877.0,736.0 880.0,731.0 884.0,730.0"/><polyline points="821.0,721.0 835.0,722.0 838.0,726.0 846.0,728.0 852.0,727.0 855.0,730.0 855.0,740.0 860.0,740.0 860.0,746.0 854.0,746.0 854.0,760.0"/><polyline points="893.0,744.0 896.0,750.0 900.0,755.0"/><polyline points="885.0,750.0 895.0,750.0"/><polyline points="821.0,761.0 850.0,764.0 860.0,764.0 871.0,764.0"/><polyline points="851.0,765.0 851.0,777.5 849.0,777.5 849.0,800.0 837.5,801.0"/><polyline points="851.0,795.0 857.5,791.0 865.0,789.0 870.0,786.0 877.5,779.0 886.0,777.5"/><polyline points="871.0,764.0 884.0,755.0 891.0,754.0 890.0,760.0 887.5,777.5"/><polyline points="866.0,765.0 876.0,777.5"/><polyline points="855.0,747.5 855.0,762.5"/><polyline points="887.5,777.5 890.0,794.0"/><polyline points="892.5,744.0 899.0,750.0 900.0,757.5"/><polyline points="555.0,679.0 553.0,687.0 558.0,695.0 569.0,697.0 572.0,712.0 565.0,713.0 564.0,726.0"/><polyline points="572.0,712.0 580.0,715.0 583.0,710.0 582.0,705.0 592.0,703.0 595.0,700.0"/><polyline points="595.0,692.0 594.0,699.0"/><polyline points="595.0,702.0 598.0,712.0 600.0,714.0 606.0,711.0"/><polyline points="605.0,698.0 606.0,711.0"/><polyline points="615.0,700.0 617.0,710.0"/><polyline points="606.0,711.0 620.0,711.0 625.0,705.0"/><polyline points="533.0,715.0 545.0,721.0 553.0,726.0 564.0,727.0"/><polyline points="526.0,734.0 532.0,734.0 537.0,728.0 545.0,722.0"/><polyline points="564.0,727.0 563.0,730.0 555.0,735.0 550.0,742.0 552.0,750.0 560.0,753.0 566.0,756.0"/><polyline points="566.0,756.0 578.0,752.0 580.0,758.0 590.0,764.0 595.0,768.0 596.0,771.0 603.0,775.0 605.0,780.0 604.0,786.0"/><polyline points="566.0,757.0 565.0,770.0 564.0,778.0 562.0,780.0"/><polyline points="564.0,778.0 566.0,780.0 571.0,796.0 566.0,814.0 562.5,830.0 557.5,855.0 556.0,880.0 552.5,901.0 555.0,910.0 567.5,911.0"/><polyline points="567.5,912.5 567.5,926.0"/><polyline points="572.5,795.0 589.0,792.5"/><polyline points="589.0,792.5 591.0,786.0 604.0,785.0 605.0,791.0 615.0,802.5 616.0,809.0 609.0,812.5 602.5,810.0 600.0,802.5 590.0,796.0 589.0,792.5"/><polyline points="616.0,809.0 605.0,822.5 602.5,839.0"/><polyline points="605.0,822.5 620.0,831.0"/><polyline points="900.0,576.0 910.0,574.0 930.0,573.0"/><polyline points="930.0,560.0 931.0,570.0 934.0,574.0"/><polyline points="920.0,574.0 919.0,583.0 911.0,588.0 905.0,592.0"/><polyline points="900.0,588.0 905.0,592.0"/><polyline points="905.0,592.0 910.0,595.0 903.0,600.0 898.0,605.0"/><polyline points="910.0,595.0 922.0,596.0 932.0,600.0 940.0,601.0"/><polyline points="934.0,574.0 935.0,580.0 942.0,592.0 944.0,600.0"/><polyline points="968.0,540.0 970.0,556.0 980.0,552.0 988.0,558.0 995.0,564.0 1000.0,569.0 1010.0,570.0"/><polyline points="968.0,540.0 981.0,537.0 985.0,544.0 1000.0,548.0 1006.0,557.0 1010.0,559.0"/><polyline points="960.0,570.0 970.0,569.0 980.0,573.0 986.0,579.0 1000.0,569.0"/><polyline points="984.0,579.0 985.0,590.0 988.0,600.0 990.0,607.0"/><polyline points="988.0,600.0 1005.0,598.0 1014.0,590.0 1020.0,580.0 1020.0,570.0 1028.0,572.0"/><polyline points="990.0,579.0 1000.0,570.0 1010.0,569.0 1020.0,568.0"/><polyline points="990.0,601.0 990.0,614.0"/><polyline points="1010.0,562.0 1018.0,556.0 1025.0,560.0 1030.0,550.0 1040.0,549.0"/><polyline points="1022.0,572.0 1030.0,582.0 1032.0,590.0 1025.0,600.0 1020.0,610.0 1020.0,620.0"/><polyline points="1074.0,524.0 1068.0,528.0 1067.0,533.0 1060.0,533.0 1058.0,540.0 1050.0,541.0 1049.0,550.0 1040.0,553.0 1031.0,550.0 1020.0,552.0"/><polyline points="1074.0,524.0 1084.0,529.0 1086.0,540.0 1096.0,543.0 1103.0,550.0 1120.0,552.0 1130.0,554.0 1145.0,552.0 1155.0,545.0 1156.0,541.0 1165.0,539.0 1170.0,534.0 1180.0,533.0"/><polyline points="1022.0,563.0 1027.0,563.0 1032.0,569.0"/><polyline points="1026.0,572.0 1031.0,570.0 1038.0,577.0 1047.0,580.0 1044.0,590.0 1050.0,599.0 1056.0,599.0 1065.0,605.0 1076.0,608.0 1090.0,610.0 1100.0,603.0 1105.0,604.0 1110.0,610.0 1108.0,620.0 1113.0,624.0 1116.0,630.0"/><polyline points="1050.0,600.0 1052.0,604.0 1064.0,610.0 1076.0,610.0"/><polyline points="1077.0,612.0 1078.0,618.0 1082.0,626.0"/><polyline points="1090.0,624.0 1090.0,616.0 1085.0,615.0"/><polyline points="1090.0,610.0 1092.0,622.0 1092.0,630.0"/><polyline points="1106.0,604.0 1103.0,612.0 1094.0,624.0"/><polyline points="1116.0,630.0 1124.0,626.0 1137.0,624.0 1143.0,630.0 1150.0,633.0"/><polyline points="1116.0,630.0 1118.0,640.0 1124.0,646.0 1130.0,648.0"/><polyline points="1124.0,626.0 1130.0,636.0 1138.0,642.0"/><polyline points="1204.0,568.0 1212.0,566.0"/><polyline points="819.0,479.0 821.0,470.0 820.0,456.0 830.0,443.0 835.0,432.0 840.0,427.0 847.0,426.0 852.0,422.0 858.0,428.0"/><polyline points="858.0,428.0 861.0,440.0 864.0,444.0"/><polyline points="852.0,422.0 860.0,427.0 868.0,420.0 876.0,419.0 878.0,424.0"/><polyline points="878.0,424.0 877.0,429.0 880.0,433.0 881.0,444.0 881.7,453.8 880.0,460.0 877.5,467.5 876.0,471.0"/><polyline points="852.8,491.0 870.7,492.3 874.8,491.0"/><polyline points="852.0,496.0 861.0,500.5 870.0,497.0 875.0,494.0"/><polyline points="874.8,491.0 885.8,495.0 890.0,504.6 894.0,508.8 898.2,517.0 912.0,519.8 914.7,525.3 907.8,535.0 894.0,536.3"/><polyline points="859.7,510.0 877.5,511.5 890.0,507.4"/><polyline points="861.0,501.0 861.0,504.6 859.7,511.5 861.0,521.0 858.3,522.5"/><polyline points="777.0,547.3 789.5,551.4"/><polyline points="752.4,554.2 759.3,554.2 757.9,561.0 756.5,572.0"/><polyline points="790.9,512.9 801.9,517.0 807.4,525.3 807.4,528.0 803.3,533.5 804.6,539.0"/><polyline points="795.0,506.0 804.6,506.0 806.0,512.9 804.6,519.8"/><polyline points="810.0,500.0 816.0,499.0"/><polyline points="829.4,500.5 830.8,514.3 830.8,517.0"/><polyline points="824.0,518.4 830.8,517.0 841.8,522.5"/><polyline points="830.8,517.0 841.8,521.0 856.9,524.0 858.3,522.5"/><polyline points="807.4,528.0 822.5,528.0"/><polyline points="817.0,535.0 828.0,530.8 836.3,528.0"/><polyline points="836.3,528.0 840.4,525.3 855.5,525.3 858.3,522.5"/><polyline points="836.3,530.8 839.0,536.3 852.8,536.3 855.5,529.4"/><polyline points="855.5,529.4 872.0,528.0 877.5,530.8 880.3,536.3"/><polyline points="855.5,544.5 863.8,544.5 877.5,544.5"/><polyline points="836.3,539.0 846.0,539.0 847.3,550.0 844.5,555.5"/><polyline points="855.5,544.5 857.0,552.8 850.0,554.2"/><polyline points="848.7,559.7 859.7,557.0 869.3,558.3"/><polyline points="869.3,552.8 869.3,557.0"/><polyline points="852.8,536.3 855.5,544.5"/><polyline points="1227.5,549.5 1219.0,548.0 1220.0,543.5 1222.0,540.0 1220.0,535.8 1224.0,529.0 1213.0,517.8 1199.5,506.5 1186.0,504.0 1181.5,511.0 1179.0,520.0 1168.0,520.0 1140.0,520.0 1120.0,514.0 1110.0,512.0 1100.0,516.0 1080.0,522.0 1072.0,524.0 1060.0,518.0 1048.0,516.0 1036.0,502.0 1020.0,498.0 1012.0,496.0 988.0,502.0 984.0,506.0 980.0,514.0 964.0,512.0 948.0,514.0 940.0,522.0 943.8,533.0"/><polyline points="949.8,559.2 946.0,566.0 942.2,564.5 936.2,561.5 928.8,559.2 922.0,557.8"/><polyline points="922.2,644.5 942.5,640.0 955.2,638.5 967.2,634.0"/><polyline points="967.2,634.0 967.2,625.0"/><polyline points="956.0,639.0 959.0,646.0"/><polyline points="907.2,593.5 915.0,594.0 923.8,597.2 929.0,601.8 935.0,601.0"/><polyline points="935.0,580.0 941.8,592.8 944.0,598.8"/><polyline points="986.0,580.0 986.0,598.8 991.2,608.5 986.8,614.5"/><polyline points="1254.0,712.0 1254.0,734.0"/><polyline points="1148.8,698.0 1161.7,696.9 1168.7,688.7 1174.5,688.7"/><polyline points="1108.0,637.3 1111.5,649.0 1113.8,663.0"/><polyline points="1117.3,635.0 1122.0,638.5 1131.3,650.2 1124.3,656.0 1124.3,660.7"/><polyline points="1124.3,628.0 1131.3,633.8 1138.3,649.0 1140.7,654.8"/><polyline points="1124.3,656.0 1140.7,654.8"/><polyline points="1115.0,632.7 1122.0,628.0 1137.2,624.5 1140.7,630.3"/><polyline points="1091.7,622.2 1105.7,605.8 1110.3,612.8 1109.2,621.0 1115.0,630.3"/><polyline points="1111.5,671.2 1116.0,672.0"/><polyline points="876.0,800.5 879.5,802.0 880.0,806.0 876.5,808.5 873.0,807.0 872.5,803.0 876.0,800.5"/></g></svg><div class="pill" style="left:382px;top:978px;background:#c99cfa"></div>
<div class="pill" style="left:382px;top:1035px;background:#dcc4fd"></div>
<div class="pill" style="left:846px;top:974px;background:#cbcbcb"></div>
<div class="t lg" id="l1" style="left:471px;top:973.8px;transform:scaleX(0.973)">Dominant Region</div>
<div class="t lg" id="l2" style="left:471px;top:1033.4px;transform:scaleX(0.9435)">Emerging Region</div>
<div class="t lg" id="l3" style="left:935px;top:970.4px;transform:scaleX(0.996)">Rest of the World</div>
<div id="rule"></div>
<div class="t" id="src" style="left:92px;top:1137px;transform:scaleX(0.93)">Sources : Ken Research Analysis</div>
<svg style="position:absolute;left:0;top:0" width="1600" height="1200" viewBox="0 0 1600 1200"><g fill="none" stroke="#141414" stroke-width="1.9" stroke-linejoin="miter"><polyline points="1316.5,1143.8 1316.5,1140.3 1299.8,1140.3 1299.8,1158 1308,1163.3 1316.5,1157.6 1305,1150 1316.5,1143.8"/><line x1="1304.3" y1="1143" x2="1304.3" y2="1156.6"/></g><polygon points="1311.3,1150 1317.6,1145.6 1317.6,1154.2" fill="#c6414c"/><line x1="1323.8" y1="1142" x2="1323.8" y2="1160.6" stroke="#8a8a8a" stroke-width="1.1"/><text x="1328.6" y="1158.4" font-family="Liberation Sans" font-size="18.2" textLength="177.5" lengthAdjust="spacingAndGlyphs" fill="#151515">KEN RESEARCH</text><polygon points="1334.5,1151.8 1340.5,1147.8 1340.5,1155.8" fill="#c6414c"/></svg>

</body></html>
